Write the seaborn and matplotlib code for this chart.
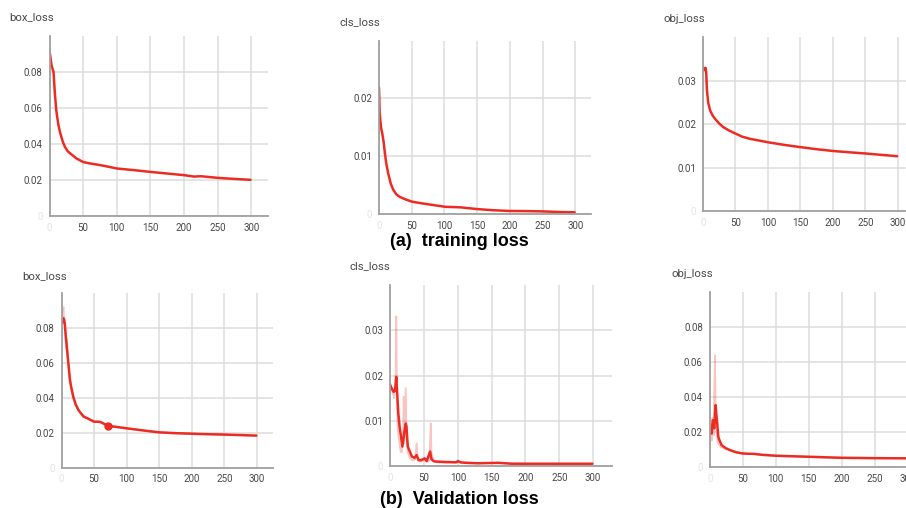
import numpy as np
import pandas as pd
import matplotlib
matplotlib.use("Agg")
import matplotlib.pyplot as plt
import seaborn as sns

sns.set_style("white")
plt.rcParams['font.family'] = ['Roboto', 'DejaVu Sans']

# ---- values (epoch, loss) ----
# training
tr_box_ep = [0, 3, 6, 8, 10, 13, 16, 20, 23, 27, 31, 40, 50, 60, 75, 90, 100, 125, 150, 175, 200, 215, 225, 250, 275, 299]
tr_box = [0.092, 0.0837, 0.080, 0.068, 0.059, 0.051, 0.046, 0.041, 0.0384, 0.036, 0.0347, 0.032, 0.030, 0.0292,
          0.0283, 0.0272, 0.0264, 0.0255, 0.0245, 0.0236, 0.0227, 0.0219, 0.0221, 0.0212, 0.0206, 0.0201]

tr_cls_ep = [0, 1, 3, 5, 7, 9, 11, 14, 18, 22, 27, 32, 40, 50, 65, 83, 101, 125, 150, 175, 200, 225, 250, 275, 299]
tr_cls = [0.0219, 0.0175, 0.0150, 0.0139, 0.0125, 0.0105, 0.0088, 0.0070, 0.0052, 0.0041, 0.0033, 0.0029, 0.0025,
          0.0021, 0.0018, 0.0015, 0.0012, 0.0011, 0.0008, 0.0006, 0.00047, 0.00045, 0.0004, 0.0003, 0.00024]

tr_obj_ep = [0, 2, 4, 5, 6, 8, 11, 15, 19, 25, 31, 40, 50, 60, 72, 86, 100, 125, 149, 175, 200, 225, 252, 275, 299]
tr_obj = [0.0331, 0.0325, 0.0330, 0.0318, 0.0280, 0.0250, 0.0232, 0.0220, 0.0212, 0.0202, 0.0194, 0.0186, 0.0179,
          0.0172, 0.0167, 0.0163, 0.0159, 0.0153, 0.0148, 0.0143, 0.0139, 0.0136, 0.0133, 0.0130, 0.0127]

# validation, smoothed
va_box_ep = [0, 1, 3, 4, 5, 6, 7, 8, 10, 13, 15, 18, 22, 26, 30, 34, 40, 50, 55, 59, 63, 71, 80, 100, 125, 149,
             175, 200, 225, 249, 275, 299]
va_box = [0.0829, 0.083, 0.0857, 0.085, 0.0829, 0.078, 0.0733, 0.070, 0.0618, 0.0503, 0.046, 0.0407, 0.036, 0.0330,
          0.031, 0.0292, 0.0282, 0.0263, 0.0263, 0.0262, 0.0255, 0.0240, 0.0235, 0.0225, 0.0213, 0.0202, 0.0197,
          0.0194, 0.0191, 0.0189, 0.0186, 0.0183]

va_cls_ep = [0, 2, 5, 7, 8, 9, 10, 12, 14, 16, 18, 21, 23, 24, 26, 32, 36, 39, 42, 46, 51, 54, 59, 61, 64, 66,
             80, 98, 100, 104, 112, 130, 160, 180, 210, 250, 299]
va_cls = [0.0179, 0.0172, 0.0164, 0.0166, 0.0180, 0.0197, 0.0170, 0.0116, 0.0085, 0.0065, 0.0043, 0.0076, 0.0094,
          0.0088, 0.0043, 0.0021, 0.0018, 0.0024, 0.0013, 0.0013, 0.0017, 0.0011, 0.0032, 0.0015, 0.0011, 0.0010,
          0.0009, 0.0008, 0.0011, 0.0008, 0.0007, 0.0006, 0.0007, 0.0005, 0.0005, 0.0005, 0.0005]

va_obj_ep = [0, 2, 3, 4, 5, 6, 7, 8, 9, 10, 11, 13, 15, 18, 21, 25, 31, 40, 50, 60, 66, 80, 100, 125, 150, 175,
             200, 250, 299]
va_obj = [0.021, 0.020, 0.019, 0.024, 0.0267, 0.023, 0.022, 0.030, 0.0353, 0.030, 0.0267, 0.0171, 0.0150, 0.0124,
          0.0115, 0.0105, 0.0095, 0.0083, 0.0076, 0.0074, 0.0074, 0.0068, 0.0063, 0.0060, 0.0057, 0.0054, 0.0051,
          0.0049, 0.0048]

# validation, raw (faint)
va_box_raw_ep = [0, 2, 3, 4, 6, 7, 8, 10, 13, 16, 20, 25, 30, 40, 50, 60, 71, 80, 100, 150, 200, 250, 299]
va_box_raw = [0.082, 0.086, 0.092, 0.084, 0.079, 0.068, 0.074, 0.060, 0.049, 0.043, 0.037, 0.0335, 0.031, 0.028,
              0.0262, 0.0262, 0.0238, 0.0235, 0.0224, 0.0202, 0.0194, 0.0189, 0.0183]

va_cls_raw_ep = [0, 3, 6, 8, 9, 10, 11, 13, 15, 17, 19, 20, 21, 23, 24, 26, 29, 33, 37, 39, 41, 45, 50, 55, 58,
                 60, 61, 64, 70, 80, 100, 130, 160, 200, 250, 299]
va_cls_raw = [0.0185, 0.0165, 0.0150, 0.0200, 0.0331, 0.0150, 0.0080, 0.0060, 0.0035, 0.0030, 0.0080, 0.0153,
              0.0050, 0.0172, 0.0070, 0.0030, 0.0018, 0.0012, 0.0015, 0.0050, 0.0012, 0.0010, 0.0013, 0.0009,
              0.0012, 0.0094, 0.0030, 0.0012, 0.0008, 0.0007, 0.0009, 0.0006, 0.0007, 0.0005, 0.0005, 0.0005]

va_obj_raw_ep = [0, 2, 3, 4, 5, 6, 7, 8, 9, 10, 12, 14, 17, 20, 25, 31, 40, 50, 66, 100, 150, 200, 250, 299]
va_obj_raw = [0.019, 0.022, 0.015, 0.028, 0.025, 0.018, 0.045, 0.0638, 0.030, 0.022, 0.014, 0.013, 0.011, 0.011,
              0.010, 0.0093, 0.0082, 0.0075, 0.0073, 0.0062, 0.0056, 0.0051, 0.0049, 0.0048]

# hover dot on validation box_loss
va_box_dot = (71, 0.0240)

xticks = [50, 100, 150, 200, 250, 300]

RED = "#ec2b22"
GRID = "#dcdcdc"
TXT = "#474747"

W, H = 906, 508
fig = plt.figure(figsize=(W / 100, H / 100), dpi=100)


def box(l, r, t, b):
    # pixel box -> figure fraction
    return [l / W, 1 - b / H, (r - l) / W, (b - t) / H]


def panel(rect, title, tpos, ep, val, ymax, yticks, xmax=325, raw=None):
    ax = fig.add_axes(box(*rect))
    if raw is not None:
        sns.lineplot(x=raw[0], y=raw[1], ax=ax, color=RED, alpha=0.28, lw=1.3)
    sns.lineplot(x=ep, y=val, ax=ax, color=RED, lw=1.8)
    ax.set_xlim(0, xmax)
    ax.set_ylim(0, ymax)
    ax.set_xticks([0] + xticks)
    ax.set_xticklabels(["0"] + [str(v) for v in xticks])
    ax.set_yticks([0] + yticks)
    ax.set_yticklabels(["0"] + [f"{v:g}" for v in yticks])
    ax.set_xlabel("")
    ax.set_ylabel("")
    ax.grid(True, color=GRID, lw=1.1)
    ax.set_axisbelow(True)
    for s in ["top", "right"]:
        ax.spines[s].set_visible(False)
    for s in ["left", "bottom"]:
        ax.spines[s].set_color("#a0a0a0")
        ax.spines[s].set_linewidth(1.3)
    ax.tick_params(length=0, labelsize=7, colors=TXT, pad=5)
    ax.get_xticklabels()[0].set_color("#e4e4e4")
    ax.get_yticklabels()[0].set_color("#e4e4e4")
    fig.text(tpos[0] / W, 1 - tpos[1] / H, title, fontsize=8.2, color=TXT, va="center", ha="left")
    return ax


panel((49.5, 268, 36, 216), "box_loss", (9, 17), tr_box_ep, tr_box, 0.1, [0.02, 0.04, 0.06, 0.08])
panel((379, 591, 40.7, 213.7), "cls_loss", (340, 22), tr_cls_ep, tr_cls, 0.03, [0.01, 0.02], xmax=324)
panel((703, 914, 37.3, 211.5), "obj_loss", (663, 19), tr_obj_ep, tr_obj, 0.04, [0.01, 0.02, 0.03])

ax4 = panel((61.5, 273.3, 293.3, 467.5), "box_loss", (22, 276), va_box_ep, va_box, 0.1,
            [0.02, 0.04, 0.06, 0.08], raw=(va_box_raw_ep, va_box_raw))
ax4.plot([va_box_dot[0]], [va_box_dot[1]], "o", color=RED, ms=5)
panel((390.2, 612, 285, 466), "cls_loss", (350, 266), va_cls_ep, va_cls, 0.04, [0.01, 0.02, 0.03],
      xmax=328, raw=(va_cls_raw_ep, va_cls_raw))
panel((709.7, 924, 292.3, 466.7), "obj_loss", (671, 274), va_obj_ep, va_obj, 0.1,
      [0.02, 0.04, 0.06, 0.08], raw=(va_obj_raw_ep, va_obj_raw))

fig.text(459 / W, 1 - 241 / H, "(a)  training loss", fontsize=13, fontweight="bold",
         family="Liberation Sans", ha="center", va="center", color="black")
fig.text(459 / W, 1 - 499 / H, "(b)  Validation loss", fontsize=13, fontweight="bold",
         family="Liberation Sans", ha="center", va="center", color="black")

fig.savefig("out.png", dpi=100)
